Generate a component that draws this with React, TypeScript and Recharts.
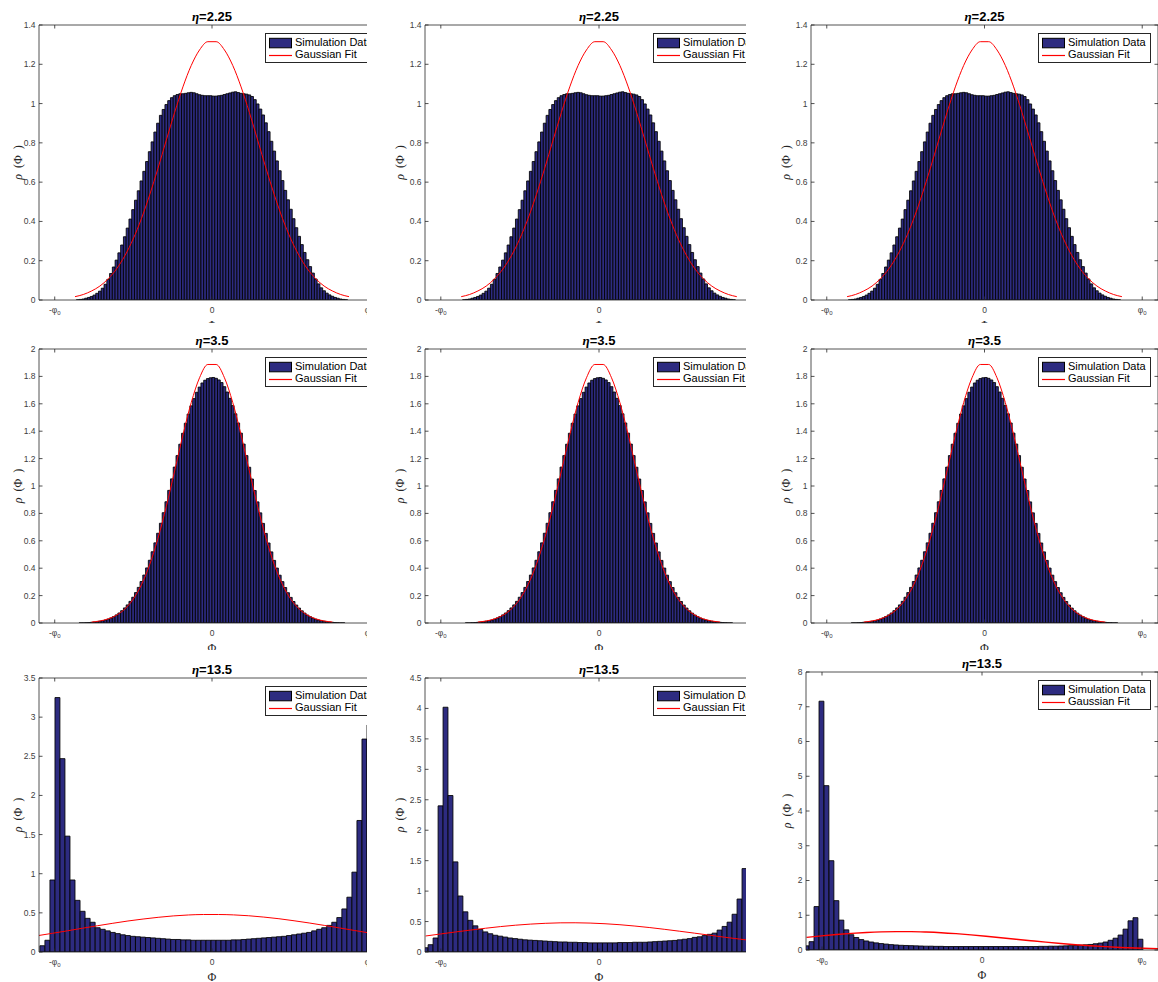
import React from "react";
import { Bar, ComposedChart, Legend, Line, XAxis, YAxis } from "recharts";

const AXIS_COLOR = "#262626";
const TICK_TEXT = "#404040";
const BAR_FILL = "#2d2b80";
const FIT_COLOR = "#ff0000";
const SANS = '"Liberation Sans", Arial, Helvetica, sans-serif';
const SERIF = '"Liberation Serif", "Times New Roman", serif';

const PHI_DOMAIN: [number, number] = [-1.1, 1.1];
const PHI_TICKS = [-1, 0, 1];
const FIT_EVERY = 3; // the fit curve is sampled on every third bin slot
const SERIES_NAMES = ["Simulation Data", "Gaussian Fit"];

// ---- eta = 2.25 (identical in the three columns) ----
const eta225BinStart = -0.8712;
const eta225BinWidth = 0.0176;
const eta225Rho = [
  0.000, 0.001, 0.003, 0.005, 0.009, 0.013, 0.018, 0.025, 0.034, 0.045,
  0.060, 0.080, 0.105, 0.135, 0.168, 0.203, 0.240, 0.280, 0.322, 0.366,
  0.412, 0.460, 0.508, 0.556, 0.606, 0.655, 0.705, 0.755, 0.805, 0.855,
  0.900, 0.940, 0.970, 0.995, 1.015, 1.030, 1.040, 1.046, 1.050, 1.050,
  1.052, 1.055, 1.057, 1.055, 1.050, 1.045, 1.042, 1.040, 1.040, 1.040,
  1.038, 1.038, 1.040, 1.042, 1.046, 1.050, 1.054, 1.058, 1.060, 1.056,
  1.052, 1.050, 1.048, 1.044, 1.036, 1.020, 0.998, 0.972, 0.942, 0.902,
  0.857, 0.808, 0.758, 0.708, 0.658, 0.608, 0.558, 0.510, 0.462, 0.414,
  0.368, 0.324, 0.282, 0.242, 0.205, 0.170, 0.137, 0.107, 0.082, 0.062,
  0.047, 0.035, 0.026, 0.019, 0.013, 0.009, 0.005, 0.003, 0.001, 0.000,
];
const eta225Fit = [
  0.017, 0.028, 0.046, 0.071, 0.108, 0.158, 0.225, 0.310, 0.414, 0.536,
  0.671, 0.814, 0.955, 1.085, 1.194, 1.273, 1.315, 1.315, 1.273, 1.194,
  1.085, 0.955, 0.814, 0.671, 0.536, 0.414, 0.310, 0.225, 0.158, 0.108,
  0.071, 0.046, 0.028, 0.017,
];
const eta225Ticks = [0, 0.2, 0.4, 0.6, 0.8, 1, 1.2, 1.4];

// ---- eta = 3.5 (identical in the three columns) ----
const eta350BinStart = -0.8712;
const eta350BinWidth = 0.0176;
const eta350Rho = [
  0.000, 0.000, 0.001, 0.001, 0.002, 0.003, 0.005, 0.007, 0.009, 0.013,
  0.017, 0.022, 0.029, 0.037, 0.047, 0.059, 0.073, 0.090, 0.110, 0.132,
  0.158, 0.188, 0.222, 0.260, 0.303, 0.350, 0.402, 0.458, 0.520, 0.585,
  0.655, 0.728, 0.805, 0.885, 0.968, 1.052, 1.138, 1.222, 1.305, 1.385,
  1.458, 1.525, 1.585, 1.638, 1.684, 1.722, 1.752, 1.772, 1.784, 1.790,
  1.792, 1.786, 1.774, 1.755, 1.725, 1.686, 1.640, 1.587, 1.527, 1.460,
  1.386, 1.306, 1.222, 1.137, 1.051, 0.967, 0.884, 0.804, 0.727, 0.654,
  0.584, 0.519, 0.457, 0.401, 0.349, 0.302, 0.259, 0.221, 0.187, 0.157,
  0.131, 0.109, 0.089, 0.072, 0.058, 0.046, 0.036, 0.028, 0.022, 0.017,
  0.013, 0.009, 0.007, 0.005, 0.003, 0.002, 0.001, 0.001, 0.000, 0.000,
];
const eta350Fit = [
  null, null, 0.007, 0.015, 0.030, 0.057, 0.102, 0.173, 0.279, 0.427,
  0.619, 0.851, 1.110, 1.373, 1.609, 1.790, 1.887, 1.887, 1.790, 1.609,
  1.373, 1.110, 0.851, 0.619, 0.427, 0.279, 0.173, 0.102, 0.057, 0.030,
  0.015, 0.007, null, null,
];
const eta350Ticks = [0, 0.2, 0.4, 0.6, 0.8, 1, 1.2, 1.4, 1.6, 1.8, 2];

// ---- eta = 13.5, left column ----
const eta135aBinStart = -1.1104;
const eta135aBinWidth = 0.032;
const eta135aRho = [
  null, 0.08, 0.15, 0.92, 3.25, 2.47, 1.48, 0.92, 0.66, 0.52,
  0.43, 0.38, 0.31, 0.29, 0.27, 0.25, 0.235, 0.22, 0.21, 0.20,
  0.195, 0.19, 0.185, 0.18, 0.175, 0.17, 0.165, 0.16, 0.16, 0.155,
  0.155, 0.15, 0.15, 0.15, 0.15, 0.15, 0.15, 0.15, 0.15, 0.155,
  0.155, 0.16, 0.165, 0.17, 0.175, 0.18, 0.185, 0.19, 0.195, 0.20,
  0.21, 0.22, 0.23, 0.24, 0.25, 0.27, 0.29, 0.31, 0.34, 0.38,
  0.44, 0.55, 0.70, 1.02, 1.68, 2.72, 2.9,
];
const eta135aFit = [
  0.208, 0.239, 0.271, 0.304, 0.336, 0.367, 0.396, 0.421, 0.443, 0.461,
  0.473, 0.479, 0.479, 0.474, 0.463, 0.446, 0.425, 0.399, 0.371, 0.340,
  0.308, 0.275, 0.243, 0.212,
];
const eta135aTicks = [0, 0.5, 1, 1.5, 2, 2.5, 3, 3.5];

// ---- eta = 13.5, middle column ----
const eta135bBinStart = -1.096;
const eta135bBinWidth = 0.0315;
const eta135bRho = [
  0.07, 0.12, 0.23, 2.40, 4.02, 2.57, 1.48, 0.92, 0.66, 0.52,
  0.43, 0.37, 0.33, 0.30, 0.275, 0.26, 0.245, 0.23, 0.22, 0.21,
  0.20, 0.195, 0.19, 0.185, 0.18, 0.175, 0.17, 0.165, 0.165, 0.16,
  0.16, 0.155, 0.155, 0.15, 0.15, 0.15, 0.15, 0.15, 0.15, 0.155,
  0.155, 0.155, 0.16, 0.16, 0.16, 0.165, 0.17, 0.175, 0.18, 0.185,
  0.19, 0.20, 0.21, 0.22, 0.24, 0.25, 0.27, 0.29, 0.31, 0.36,
  0.42, 0.49, 0.62, 0.87, 1.37,
];
const eta135bFit = [
  0.263, 0.296, 0.329, 0.360, 0.390, 0.417, 0.440, 0.458, 0.471, 0.479,
  0.480, 0.475, 0.464, 0.448, 0.426, 0.401, 0.372, 0.341, 0.309, 0.276,
  0.243, 0.212, 0.182, 0.155,
];
const eta135bTicks = [0, 0.5, 1, 1.5, 2, 2.5, 3, 3.5, 4, 4.5];

// ---- eta = 13.5, right column ----
const eta135cBinStart = -1.0965;
const eta135cBinWidth = 0.03115;
const eta135cRho = [
  0.12, 0.24, 1.25, 7.16, 4.73, 2.57, 1.42, 0.86, 0.58, 0.44,
  0.36, 0.30, 0.26, 0.23, 0.205, 0.185, 0.17, 0.155, 0.145, 0.135,
  0.13, 0.125, 0.12, 0.115, 0.11, 0.11, 0.105, 0.105, 0.10, 0.10,
  0.10, 0.10, 0.10, 0.10, 0.10, 0.10, 0.10, 0.10, 0.10, 0.10,
  0.10, 0.10, 0.10, 0.10, 0.10, 0.10, 0.10, 0.105, 0.105, 0.11,
  0.11, 0.115, 0.12, 0.125, 0.13, 0.14, 0.15, 0.16, 0.18, 0.20,
  0.23, 0.28, 0.34, 0.43, 0.60, 0.84, 0.93, 0.31,
];
const eta135cFit = [
  0.364, 0.406, 0.444, 0.477, 0.503, 0.521, 0.529, 0.528, 0.517, 0.498,
  0.470, 0.436, 0.397, 0.354, 0.311, 0.268, 0.226, 0.188, 0.153, 0.123,
  0.096, 0.074, 0.056, 0.042, 0.031,
];
const eta135cTicks = [0, 1, 2, 3, 4, 5, 6, 7, 8];

type Row = { phi: number; rho: number | null; fit: number | null };

function buildRows(start: number, width: number, slots: number, rho: (number | null)[], fit: (number | null)[]): Row[] {
  const rows: Row[] = [];
  for (let s = 0; s < slots; s++) {
    rows.push({
      phi: start + width * s,
      rho: rho[s] ?? null,
      fit: s % FIT_EVERY === 0 ? fit[s / FIT_EVERY] ?? null : null,
    });
  }
  return rows;
}

const rows225 = buildRows(eta225BinStart, eta225BinWidth, 100, eta225Rho, eta225Fit);
const rows350 = buildRows(eta350BinStart, eta350BinWidth, 100, eta350Rho, eta350Fit);
const rows135a = buildRows(eta135aBinStart, eta135aBinWidth, 70, eta135aRho, eta135aFit);
const rows135b = buildRows(eta135bBinStart, eta135bBinWidth, 70, eta135bRho, eta135bFit);
const rows135c = buildRows(eta135cBinStart, eta135cBinWidth, 73, eta135cRho, eta135cFit);

type PanelSpec = {
  eta: string;
  rows: Row[];
  binWidth: number;
  yMax: number;
  yTicks: number[];
  px: number;
  py: number;
  pw: number;
  ph: number;
  clip: { x: number; y: number; w: number; h: number };
  ylabelGap: number;
  fitStroke: number;
};

const COLS = [
  { px: 39, pw: 346, x: 0, w: 367, gap: 17.5 },
  { px: 425, pw: 348, x: 367, w: 379, gap: 21.5 },
  { px: 811, pw: 347, x: 746, w: 412, gap: 21.5 },
];
const ROWS = [
  { py: 25, ph: 275, y: 0, h: 323 },
  { py: 349, ph: 274, y: 323, h: 327 },
  { py: 678, ph: 274, y: 650, h: 332 },
];

function spec(col: number, row: number, eta: string, rows: Row[], binWidth: number, yTicks: number[], extra: Partial<PanelSpec> = {}): PanelSpec {
  const c = COLS[col];
  const r = ROWS[row];
  return {
    eta,
    rows,
    binWidth,
    yMax: yTicks[yTicks.length - 1],
    yTicks,
    px: c.px,
    py: r.py,
    pw: c.pw,
    ph: r.ph,
    clip: { x: c.x, y: r.y, w: c.w, h: r.h },
    ylabelGap: c.gap,
    fitStroke: 1,
    ...extra,
  };
}

const PANELS: PanelSpec[] = [
  spec(0, 0, "2.25", rows225, eta225BinWidth, eta225Ticks),
  spec(1, 0, "2.25", rows225, eta225BinWidth, eta225Ticks),
  spec(2, 0, "2.25", rows225, eta225BinWidth, eta225Ticks),
  spec(0, 1, "3.5", rows350, eta350BinWidth, eta350Ticks),
  spec(1, 1, "3.5", rows350, eta350BinWidth, eta350Ticks),
  spec(2, 1, "3.5", rows350, eta350BinWidth, eta350Ticks),
  spec(0, 2, "13.5", rows135a, eta135aBinWidth, eta135aTicks),
  spec(1, 2, "13.5", rows135b, eta135bBinWidth, eta135bTicks),
  spec(2, 2, "13.5", rows135c, eta135cBinWidth, eta135cTicks, { px: 806, py: 672, pw: 352, ph: 278, ylabelGap: 15.5, fitStroke: 1.4 }),
];

// space around the plot box (axis sizes are taken out of these)
const ML = 45;
const MT = 30;
const MR = 12;
const MB = 40;
const Y_AXIS_W = 30;
const X_AXIS_H = 20;
const TOP_AXIS_H = 5;
const RIGHT_AXIS_W = 5;
const TICK_LEN = 3.5;

const renderBottomTick = (p: any) => {
  const { x, y, payload } = p;
  const v = payload.value;
  return (
    <g>
      <line x1={x} x2={x} y1={y} y2={y - TICK_LEN} stroke={AXIS_COLOR} strokeWidth={0.8} />
      <text x={x} y={y + 13} textAnchor="middle" fontFamily={SANS} fontSize={8.5} fill={TICK_TEXT}>
        {v === 0 ? (
          "0"
        ) : (
          <>
            <tspan>{v < 0 ? "-φ" : "φ"}</tspan>
            <tspan fontSize={6} dy={2}>0</tspan>
          </>
        )}
      </text>
    </g>
  );
};

const renderTopTick = (p: any) => (
  <line x1={p.x} x2={p.x} y1={p.y} y2={p.y + TICK_LEN} stroke={AXIS_COLOR} strokeWidth={0.8} />
);

const renderLeftTick = (p: any) => (
  <g>
    <line x1={p.x} x2={p.x + TICK_LEN} y1={p.y} y2={p.y} stroke={AXIS_COLOR} strokeWidth={0.8} />
    <text x={p.x - 3.5} y={p.y} dy="0.35em" textAnchor="end" fontFamily={SANS} fontSize={8.5} fill={TICK_TEXT}>
      {String(p.payload.value)}
    </text>
  </g>
);

const renderRightTick = (p: any) => (
  <line x1={p.x} x2={p.x - TICK_LEN} y1={p.y} y2={p.y} stroke={AXIS_COLOR} strokeWidth={0.8} />
);

function FitLegend() {
  return (
    <div
      style={{
        position: "relative",
        width: 113,
        height: 30,
        boxSizing: "border-box",
        border: `0.8px solid ${AXIS_COLOR}`,
        background: "#fff",
        fontFamily: SANS,
        fontSize: 11,
        color: "#000",
      }}
    >
      <svg width={30} height={28} style={{ position: "absolute", left: 0, top: 0 }}>
        <rect x={3.5} y={4.3} width={22} height={9.5} fill={BAR_FILL} stroke="#000" strokeWidth={1} />
        <line x1={3} x2={26} y1={21.5} y2={21.5} stroke={FIT_COLOR} strokeWidth={1.2} />
      </svg>
      <span style={{ position: "absolute", left: 29, top: 1.8, lineHeight: "13px", whiteSpace: "nowrap" }}>
        {SERIES_NAMES[0]}
      </span>
      <span style={{ position: "absolute", left: 29, top: 14.4, lineHeight: "13px", whiteSpace: "nowrap" }}>
        {SERIES_NAMES[1]}
      </span>
    </div>
  );
}

function Panel({ spec }: { spec: PanelSpec }) {
  const { px, py, pw, ph, clip } = spec;
  const cw = ML + pw + MR;
  const ch = MT + ph + MB;
  const barSize = (0.98 * spec.binWidth * pw) / (PHI_DOMAIN[1] - PHI_DOMAIN[0]);
  const axisLine = { stroke: AXIS_COLOR, strokeWidth: 0.8 };
  return (
    <div
      style={{
        position: "absolute",
        left: clip.x,
        top: clip.y,
        width: clip.w,
        height: clip.h,
        overflow: "hidden",
        background: "#fff",
      }}
    >
      <div style={{ position: "absolute", left: px - ML - clip.x, top: py - MT - clip.y, width: cw, height: ch }}>
        <ComposedChart
          width={cw}
          height={ch}
          data={spec.rows}
          margin={{ top: MT - TOP_AXIS_H, right: MR - RIGHT_AXIS_W, bottom: MB - X_AXIS_H, left: ML - Y_AXIS_W }}
        >
          <XAxis
            xAxisId="b"
            dataKey="phi"
            type="number"
            domain={PHI_DOMAIN}
            allowDataOverflow
            ticks={PHI_TICKS}
            interval={0}
            height={X_AXIS_H}
            tickSize={0}
            tickMargin={0}
            tickLine={false}
            axisLine={axisLine}
            tick={renderBottomTick}
          />
          <XAxis
            xAxisId="t"
            orientation="top"
            dataKey="phi"
            type="number"
            domain={PHI_DOMAIN}
            allowDataOverflow
            ticks={PHI_TICKS}
            interval={0}
            height={TOP_AXIS_H}
            tickSize={0}
            tickMargin={0}
            tickLine={false}
            axisLine={axisLine}
            tick={renderTopTick}
          />
          <YAxis
            yAxisId="l"
            type="number"
            domain={[0, spec.yMax]}
            allowDataOverflow
            ticks={spec.yTicks}
            interval={0}
            width={Y_AXIS_W}
            tickSize={0}
            tickMargin={0}
            tickLine={false}
            axisLine={axisLine}
            tick={renderLeftTick}
          />
          <YAxis
            yAxisId="r"
            orientation="right"
            type="number"
            domain={[0, spec.yMax]}
            allowDataOverflow
            ticks={spec.yTicks}
            interval={0}
            width={RIGHT_AXIS_W}
            tickSize={0}
            tickMargin={0}
            tickLine={false}
            axisLine={axisLine}
            tick={renderRightTick}
          />
          <Bar
            xAxisId="b"
            yAxisId="l"
            dataKey="rho"
            name={SERIES_NAMES[0]}
            fill={BAR_FILL}
            stroke="#000"
            strokeWidth={0.85}
            barSize={barSize}
            isAnimationActive={false}
          />
          <Line
            xAxisId="b"
            yAxisId="l"
            dataKey="fit"
            name={SERIES_NAMES[1]}
            type="monotone"
            stroke={FIT_COLOR}
            strokeWidth={spec.fitStroke}
            dot={false}
            activeDot={false}
            connectNulls
            isAnimationActive={false}
          />
          <Legend
            layout="vertical"
            align="center"
            verticalAlign="middle"
            content={FitLegend}
            wrapperStyle={{ left: ML + pw - 120, top: MT + 8, width: 113, height: 30 }}
          />
        </ComposedChart>
        <svg
          width={cw}
          height={ch}
          style={{ position: "absolute", left: 0, top: 0, pointerEvents: "none", overflow: "visible" }}
        >
          <text x={ML + pw / 2} y={MT - 4} textAnchor="middle" fontFamily={SANS} fontWeight="bold" fontSize={13} fill="#000">
            <tspan fontFamily={SERIF} fontStyle="italic">η</tspan>
            <tspan>{"=" + spec.eta}</tspan>
          </text>
          <text
            transform={`translate(${ML - spec.ylabelGap}, ${MT + ph / 2}) rotate(-90)`}
            textAnchor="middle"
            fontFamily={SERIF}
            fontSize={12}
            fill="#262626"
            xmlSpace="preserve"
            style={{ whiteSpace: "pre" }}
          >
            <tspan fontStyle="italic">ρ</tspan>
            <tspan>{"  (Φ  )"}</tspan>
          </text>
          <text x={ML + pw / 2} y={MT + ph + 29} textAnchor="middle" fontFamily={SERIF} fontSize={12} fill="#262626">
            Φ
          </text>
        </svg>
      </div>
    </div>
  );
}

export default function App() {
  return (
    <div
      style={{
        position: "absolute",
        left: 0,
        top: 0,
        width: 1158,
        height: 982,
        background: "#fff",
        overflow: "hidden",
      }}
    >
      {PANELS.map((p, i) => (
        <Panel key={i} spec={p} />
      ))}
    </div>
  );
}
